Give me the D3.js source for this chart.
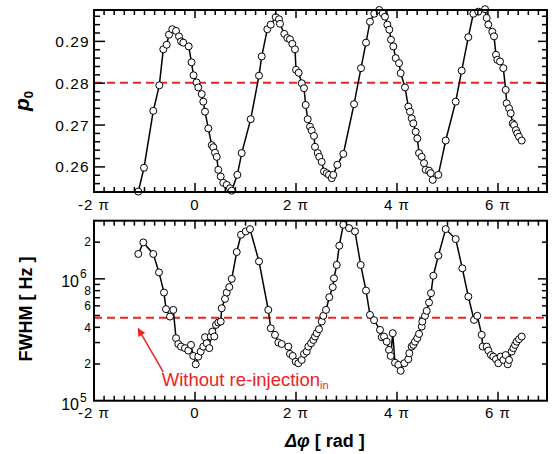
<!DOCTYPE html>
<html>
<head>
<meta charset="utf-8">
<script src="https://cdn.jsdelivr.net/npm/d3@7"></script>
<style>
body { margin: 0; background: #fff; }
text { font-family: "Liberation Sans", Arial, sans-serif; }
</style>
</head>
<body>
<svg id="chart" width="555" height="454"></svg>
<script>
// phase difference in units of pi
var phaseTop = [-1.123,-1.010,-0.826,-0.707,-0.628,-0.560,-0.515,-0.450,-0.376,-0.317,-0.277,-0.232,
    -0.125,-0.069,-0.030,0.030,0.065,0.133,0.164,0.198,0.263,0.331,0.362,0.396,0.430,0.461,0.509,0.560,0.628,0.693,0.727,
    0.838,0.925,1.103,1.267,1.321,1.432,1.499,1.598,1.663,1.683,1.768,1.828,1.881,1.927,1.980,2.000,2.053,2.113,2.158,2.192,
    2.232,2.277,2.311,2.356,2.376,2.430,2.461,2.509,2.554,2.608,2.653,2.707,2.739,2.818,2.937,3.149,3.287,3.386,3.465,3.549,
    3.648,3.717,3.762,3.808,3.848,3.881,3.927,3.974,4.040,4.073,4.158,4.224,4.257,4.291,4.323,4.370,4.402,4.436,4.489,4.535,
    4.568,4.634,4.667,4.707,4.818,4.964,5.162,5.281,5.412,5.511,5.610,5.743,5.776,5.808,5.887,5.921,5.960,5.986,6.040,6.105,
    6.152,6.172,6.218,6.251,6.291,6.317,6.356,6.382,6.416,6.469];
var p0Values = [0.2541,0.2598,0.2734,0.2795,0.2881,0.2892,0.2916,0.2929,0.2925,0.2912,0.2900,0.2897,
    0.2888,0.2850,0.2819,0.2802,0.2790,0.2774,0.2756,0.2732,0.2692,0.2652,0.2647,0.2634,0.2624,0.2593,0.2577,0.2562,0.2557,0.2549,0.2543,
    0.2581,0.2633,0.2714,0.2818,0.2864,0.2929,0.2940,0.2958,0.2953,0.2942,0.2918,0.2908,0.2905,0.2894,0.2881,0.2832,0.2825,0.2800,0.2788,0.2748,
    0.2714,0.2696,0.2687,0.2674,0.2648,0.2633,0.2624,0.2612,0.2589,0.2585,0.2581,0.2573,0.2581,0.2605,0.2631,0.2750,0.2836,0.2897,0.2947,0.2966,
    0.2975,0.2967,0.2959,0.2940,0.2928,0.2904,0.2888,0.2860,0.2848,0.2824,0.2790,0.2744,0.2732,0.2716,0.2704,0.2684,0.2668,0.2633,0.2624,0.2609,
    0.2593,0.2591,0.2585,0.2569,0.2581,0.2663,0.2756,0.2830,0.2910,0.2966,0.2971,0.2977,0.2956,0.2940,0.2923,0.2912,0.2868,0.2856,0.2852,0.2836,
    0.2784,0.2752,0.2740,0.2728,0.2704,0.2700,0.2688,0.2680,0.2672,0.2663];

var phaseBottom = [-1.123,-1.024,-0.826,-0.713,-0.614,-0.574,-0.495,-0.430,-0.376,-0.331,-0.277,-0.198,-0.133,-0.079,-0.034,
    0.014,0.065,0.113,0.164,0.198,0.232,0.283,0.311,0.343,0.382,0.416,0.461,0.509,0.529,0.594,0.628,0.679,0.727,0.826,0.911,
    1.004,1.089,1.267,1.451,1.499,1.584,1.650,1.717,1.848,1.881,1.935,1.994,2.046,2.113,2.158,2.212,2.244,2.297,2.343,2.376,
    2.410,2.455,2.509,2.541,2.594,2.659,2.727,2.752,2.806,2.857,2.937,3.050,3.168,3.281,3.386,3.465,3.545,3.663,3.697,3.743,
    3.796,3.842,3.875,3.915,3.960,4.026,4.073,4.145,4.224,4.244,4.291,4.323,4.356,4.402,4.436,4.489,4.501,4.554,4.588,4.634,
    4.673,4.719,4.818,4.964,5.162,5.293,5.412,5.525,5.590,5.677,5.697,5.776,5.808,5.861,5.907,5.960,6.006,6.053,6.105,6.152,
    6.192,6.218,6.271,6.303,6.337,6.370,6.416,6.469];
var fwhmValues = [1.60e6,1.99e6,1.60e6,1.13e6,7.72e5,5.64e5,4.90e5,5.56e5,3.26e5,2.92e5,2.78e5,2.70e5,2.58e5,2.87e5,2.33e5,
    1.99e5,2.30e5,2.53e5,2.78e5,3.32e5,2.96e5,2.70e5,3.36e5,3.69e5,3.36e5,4.19e5,4.38e5,4.46e5,5.74e5,6.85e5,7.72e5,8.55e5,1.00e6,1.66e6,2.30e6,
    2.45e6,2.56e6,1.39e6,5.56e5,3.93e5,3.47e5,3.00e5,2.92e5,2.78e5,2.42e5,2.33e5,2.09e5,2.03e5,2.16e5,2.42e5,2.53e5,2.78e5,2.96e5,3.15e5,3.36e5,
    3.58e5,3.86e5,4.46e5,4.97e5,5.56e5,7.07e5,8.55e5,1.01e6,1.30e6,1.87e6,2.78e6,2.61e6,2.45e6,1.30e6,8.01e5,5.06e5,4.58e5,3.81e5,3.32e5,3.36e5,
    3.05e5,2.61e5,2.33e5,3.58e5,2.05e5,1.97e5,1.76e5,2.03e5,2.19e5,2.45e5,2.78e5,2.87e5,3.05e5,3.26e5,3.53e5,4.06e5,4.46e5,4.97e5,5.46e5,6.39e5,
    7.63e5,1.06e6,1.55e6,2.56e6,2.12e6,1.22e6,7.15e5,4.60e5,4.97e5,3.47e5,2.78e5,2.78e5,2.58e5,2.37e5,2.30e5,2.19e5,2.03e5,2.30e5,2.16e5,2.37e5,
    1.99e5,2.16e5,2.53e5,2.70e5,2.87e5,3.05e5,3.20e5,3.36e5];

var xTickValues = [-2, 0, 2, 4, 6];
var xTickLabels = ['-2 \u03c0', '0', '2 \u03c0', '4 \u03c0', '6 \u03c0'];
var p0TickValues = [0.26, 0.27, 0.28, 0.29];
var p0TickLabels = ['0.26', '0.27', '0.28', '0.29'];
var fwhmSmallTicks = [2e5, 4e5, 6e5, 8e5, 2e6];
var fwhmSmallLabels = ['2', '4', '6', '8', '2'];
var fwhmDecades = [1e5, 1e6];
var fwhmDecadeExp = ['5', '6'];
var p0Reference = 0.2801;
var fwhmReference = 4.8e5;

var red = '#ee2222';
var svg = d3.select('#chart');

// panel geometry
var left = 94, right = 547;
var top1 = 10, bot1 = 192, top2 = 220.7, bot2 = 400.7;

var x = d3.scaleLinear().domain([-2, 6.97]).range([left, right]);
var yTop = d3.scaleLinear().domain([0.2540, 0.2975]).range([bot1, top1]);
var yBot = d3.scaleLog().domain([1e5, 3e6]).range([bot2, top2]);

svg.append('defs').append('marker')
    .attr('id', 'arrow')
    .attr('viewBox', '0 0 10 10')
    .attr('refX', 9).attr('refY', 5)
    .attr('markerWidth', 9).attr('markerHeight', 8)
    .attr('markerUnits', 'userSpaceOnUse')
    .attr('orient', 'auto')
    .append('path').attr('d', 'M0,0L10,5L0,10z').attr('fill', red);

function tickLine(g, x1, y1, x2, y2) {
    g.append('line')
        .attr('x1', x1).attr('y1', y1).attr('x2', x2).attr('y2', y2)
        .attr('stroke', '#000').attr('stroke-width', 1.5);
}

// x ticks every pi/5, long ones at multiples of 2 pi
function drawXTicks(g, yTopEdge, yBotEdge, labelY) {
    d3.range(-10, 35).forEach(function(i) {
        var v = i / 5;
        if (v > x.domain()[1]) return;
        var major = (i % 10 === 0);
        var px = x(v);
        tickLine(g, px, yBotEdge, px, yBotEdge - (major ? 9 : 5));
        tickLine(g, px, yTopEdge, px, yTopEdge + (major ? 8 : 5));
    });
    g.selectAll('.xlab').data(xTickValues).enter().append('text')
        .attr('x', function(d) { return x(d); })
        .attr('y', labelY)
        .attr('text-anchor', 'middle')
        .style('font-size', '15px')
        .style('letter-spacing', '1px')
        .text(function(d, i) { return xTickLabels[i]; });
}

function frame(g, t, b) {
    g.append('rect')
        .attr('x', left).attr('y', t)
        .attr('width', right - left).attr('height', b - t)
        .attr('fill', 'none').attr('stroke', '#000').attr('stroke-width', 2);
}

//---------------------------- TOP PANEL ----------------------------//
var gTop = svg.append('g');

gTop.append('line')
    .attr('x1', left).attr('x2', right)
    .attr('y1', yTop(p0Reference)).attr('y2', yTop(p0Reference))
    .attr('stroke', red).attr('stroke-width', 2).attr('stroke-dasharray', '8,5');

var topData = phaseTop.map(function(d, i) { return {x: d, y: p0Values[i]}; });
var lineTop = d3.line().x(function(d) { return x(d.x); }).y(function(d) { return yTop(d.y); });
gTop.append('path').datum(topData)
    .attr('d', lineTop).attr('fill', 'none').attr('stroke', '#000').attr('stroke-width', 1.5);
gTop.selectAll('circle').data(topData).enter().append('circle')
    .attr('cx', function(d) { return x(d.x); })
    .attr('cy', function(d) { return yTop(d.y); })
    .attr('r', 3.5).attr('fill', '#fff').attr('stroke', '#000').attr('stroke-width', 1);

// y ticks every 0.002
d3.range(128, 149).forEach(function(i) {
    var v = i / 500;
    var py = yTop(v);
    if (py < top1 || py > bot1) return;
    var major = (i % 5 === 0);
    tickLine(gTop, left, py, left + (major ? 11 : 6), py);
    tickLine(gTop, right, py, right - (major ? 9 : 5), py);
});
gTop.selectAll('.ylab').data(p0TickValues).enter().append('text')
    .attr('x', 89.5).attr('y', function(d) { return yTop(d); })
    .attr('dy', '0.36em')
    .attr('text-anchor', 'end')
    .style('font-size', '15.5px')
    .style('letter-spacing', '1px')
    .text(function(d, i) { return p0TickLabels[i]; });

drawXTicks(gTop, top1, bot1, 210);
frame(gTop, top1, bot1);

var p0Title = svg.append('text')
    .attr('transform', 'translate(28.5,101) rotate(-90)')
    .attr('text-anchor', 'middle')
    .style('font-weight', 'bold');
p0Title.append('tspan').style('font-style', 'italic').style('font-size', '21px').text('p');
p0Title.append('tspan').attr('dy', 4).style('font-size', '13px').text('0');

//---------------------------- BOTTOM PANEL ----------------------------//
var gBot = svg.append('g');

gBot.append('line')
    .attr('x1', left).attr('x2', right)
    .attr('y1', yBot(fwhmReference)).attr('y2', yBot(fwhmReference))
    .attr('stroke', red).attr('stroke-width', 2).attr('stroke-dasharray', '8,5');

var botData = phaseBottom.map(function(d, i) { return {x: d, y: fwhmValues[i]}; });
var lineBot = d3.line().x(function(d) { return x(d.x); }).y(function(d) { return yBot(d.y); });
gBot.append('path').datum(botData)
    .attr('d', lineBot).attr('fill', 'none').attr('stroke', '#000').attr('stroke-width', 1.5);
gBot.selectAll('circle').data(botData).enter().append('circle')
    .attr('cx', function(d) { return x(d.x); })
    .attr('cy', function(d) { return yBot(d.y); })
    .attr('r', 3.5).attr('fill', '#fff').attr('stroke', '#000').attr('stroke-width', 1);

// log ticks
[2e5,3e5,4e5,5e5,6e5,7e5,8e5,9e5,1e6,2e6].forEach(function(v) {
    var py = yBot(v);
    var major = (v === 1e6);
    tickLine(gBot, left, py, left + (major ? 11 : 6), py);
    tickLine(gBot, right, py, right - (major ? 9 : 5), py);
});
gBot.selectAll('.ysmall').data(fwhmSmallTicks).enter().append('text')
    .attr('x', 91).attr('y', function(d) { return yBot(d); })
    .attr('dy', '0.36em')
    .attr('text-anchor', 'end')
    .style('font-size', '12px')
    .text(function(d, i) { return fwhmSmallLabels[i]; });
fwhmDecades.forEach(function(v, i) {
    var py = yBot(v) + (v === 1e5 ? 4 : 2);
    gBot.append('text')
        .attr('x', 79).attr('y', py).attr('dy', '0.36em')
        .attr('text-anchor', 'end')
        .style('font-size', '16px')
        .text('10');
    gBot.append('text')
        .attr('x', 80).attr('y', py - 3)
        .style('font-size', '12px')
        .text(fwhmDecadeExp[i]);
});

drawXTicks(gBot, top2, bot2, 418);
frame(gBot, top2, bot2);

// annotation for the dashed reference line
gBot.append('line')
    .attr('x1', x(-0.63)).attr('y1', yBot(1.72e5))
    .attr('x2', x(-1.125)).attr('y2', yBot(3.9e5))
    .attr('stroke', red).attr('stroke-width', 1.5)
    .attr('marker-end', 'url(#arrow)');
var note = gBot.append('text')
    .attr('x', x(-0.66)).attr('y', yBot(1.31e5))
    .attr('fill', red)
    .style('font-size', '18.5px');
note.append('tspan').text('Without re-injection');
note.append('tspan').attr('dy', 3).style('font-size', '11px').text('in');

svg.append('text')
    .attr('transform', 'translate(31.5,309) rotate(-90)')
    .attr('text-anchor', 'middle')
    .style('font-weight', 'bold')
    .style('font-size', '18px')
    .text('FWHM [ Hz ]');

var xTitle = svg.append('text')
    .attr('x', 285).attr('y', 447)
    .style('font-weight', 'bold')
    .style('font-size', '18px');
xTitle.append('tspan').style('font-style', 'italic').text('\u0394\u03c6');
xTitle.append('tspan').text(' [ rad ]');
</script>
</body>
</html>
